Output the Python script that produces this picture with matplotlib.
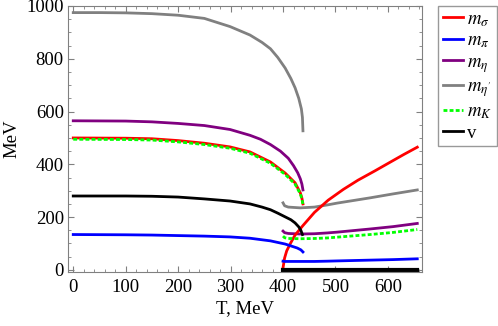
import numpy as np
import matplotlib.pyplot as plt
from matplotlib.ticker import MultipleLocator

plt.rcParams['font.family'] = ['Liberation Serif', 'DejaVu Serif']
plt.rcParams['mathtext.fontset'] = 'stix'

# --- low temperature branch (T up to ~438 MeV) ---
T_etap_low = [0, 50, 100, 150, 200, 250, 299, 337, 360, 376, 390, 404, 415, 423, 430, 435, 437, 438]
m_etap_low = [975, 975, 974, 971, 965, 953, 922, 890, 862, 838, 805, 765, 725, 690, 650, 610, 578, 527]

T_eta_low = [0, 100, 150, 200, 250, 299, 337, 357, 376, 395, 410, 420, 428, 433, 436, 438]
m_eta_low = [565, 564, 561, 555, 547, 532, 510, 495, 475, 450, 423, 395, 368, 345, 325, 303]

T_sk_low = [0, 100, 150, 200, 250, 299, 337, 376, 404, 423, 433, 436, 438]
m_sigma_low = [500, 499, 497, 490, 480, 466, 447, 409, 367, 330, 292, 272, 250]
m_K_low = [495, 494, 492, 485, 475, 461, 442, 404, 362, 325, 288, 268, 248]

T_v_low = [0, 100, 150, 200, 250, 299, 337, 360, 376, 390, 404, 415, 423, 430, 434, 437]
v_low = [280, 280, 279, 276, 269, 261, 250, 238, 228, 215, 201, 190, 178, 163, 150, 134]

T_pi_low = [0, 100, 150, 200, 250, 299, 337, 376, 404, 427, 434, 438]
m_pi_low = [134, 133, 132, 130, 128, 125, 120, 110, 98, 83, 76, 68]

# --- high temperature branch (T >= 400 MeV) ---
T_sigma_high = [400, 403, 407, 414, 423, 438, 460, 486, 515, 543, 575, 606, 630, 656]
m_sigma_high = [8, 45, 72, 100, 132, 168, 218, 264, 305, 340, 375, 410, 437, 465]

T_high = [400, 403, 410, 433, 460, 484, 503, 566, 610, 656]
m_etap_high = [254, 243, 238, 235, 238, 246, 253, 273, 288, 303]
m_eta_high = [147, 141, 138, 136, 137, 140, 143, 155, 164, 176]
m_K_high = [128, 122, 119, 118, 119, 121, 124, 134, 142, 153]
m_pi_high = [33, 32, 32, 32, 32, 33, 34, 37, 39, 42]
v_high = [0, 0, 0, 0, 0, 0, 0, 0, 0, 0]

fig = plt.figure(figsize=(4.98, 3.26), dpi=100)
ax = fig.add_axes([68 / 498, 1 - 272 / 326, (422 - 68) / 498, (272 - 6) / 326])

lw = 2.0
dots = (0, (1.4, 0.8))
ax.plot(T_etap_low, m_etap_low, color='gray', lw=lw)
ax.plot(T_high, m_etap_high, color='gray', lw=lw)
ax.plot(T_eta_low, m_eta_low, color='purple', lw=lw)
ax.plot(T_high, m_eta_high, color='purple', lw=lw)
ax.plot(T_sk_low, m_sigma_low, color='red', lw=lw)
ax.plot(T_sigma_high, m_sigma_high, color='red', lw=lw)
ax.plot(T_sk_low, m_K_low, color='#00ff00', lw=lw, ls=dots)
ax.plot(T_high, m_K_high, color='#00ff00', lw=lw, ls=dots)
ax.plot(T_v_low, v_low, color='black', lw=lw)
ax.plot(T_high, v_high, color='black', lw=3.0)
ax.plot(T_pi_low, m_pi_low, color='blue', lw=lw)
ax.plot(T_high, m_pi_high, color='blue', lw=lw)

ax.set_xlim(-10, 665)
ax.set_ylim(-8, 1000)
ax.xaxis.set_major_locator(MultipleLocator(100))
ax.xaxis.set_minor_locator(MultipleLocator(20))
ax.yaxis.set_major_locator(MultipleLocator(200))
ax.yaxis.set_minor_locator(MultipleLocator(50))
ax.tick_params(which='both', direction='in', top=True, right=True,
               color='gray', labelsize=13.5)
ax.tick_params(axis='x', which='both', pad=5)
ax.tick_params(axis='y', which='both', pad=3)
ax.tick_params(which='major', length=4, width=0.8)
ax.tick_params(which='minor', length=2, width=0.6)
for s in ax.spines.values():
    s.set_color('gray')

ax.set_xlabel('T, MeV', fontsize=13.5, labelpad=3)
ax.set_ylabel('MeV', fontsize=13.5, labelpad=4)

handles = [
    plt.Line2D([], [], color='red', lw=lw),
    plt.Line2D([], [], color='blue', lw=lw),
    plt.Line2D([], [], color='purple', lw=lw),
    plt.Line2D([], [], color='gray', lw=lw),
    plt.Line2D([], [], color='#00ff00', lw=lw, ls=dots),
    plt.Line2D([], [], color='black', lw=lw),
]
labels = [r'$m_\sigma$', r'$m_\pi$', r'$m_\eta$', r"$m_{\eta'}$", r'$m_K$', 'v']
leg = fig.legend(handles, labels, loc='upper left',
                 bbox_to_anchor=(438 / 498, 1 - 6 / 326), borderaxespad=0,
                 fancybox=False, edgecolor='gray', fontsize=13.5,
                 handlelength=1.1, handletextpad=0.2, borderpad=0.25,
                 labelspacing=0.2)
leg.get_frame().set_linewidth(1.0)

fig.savefig('out.png', dpi=100)
